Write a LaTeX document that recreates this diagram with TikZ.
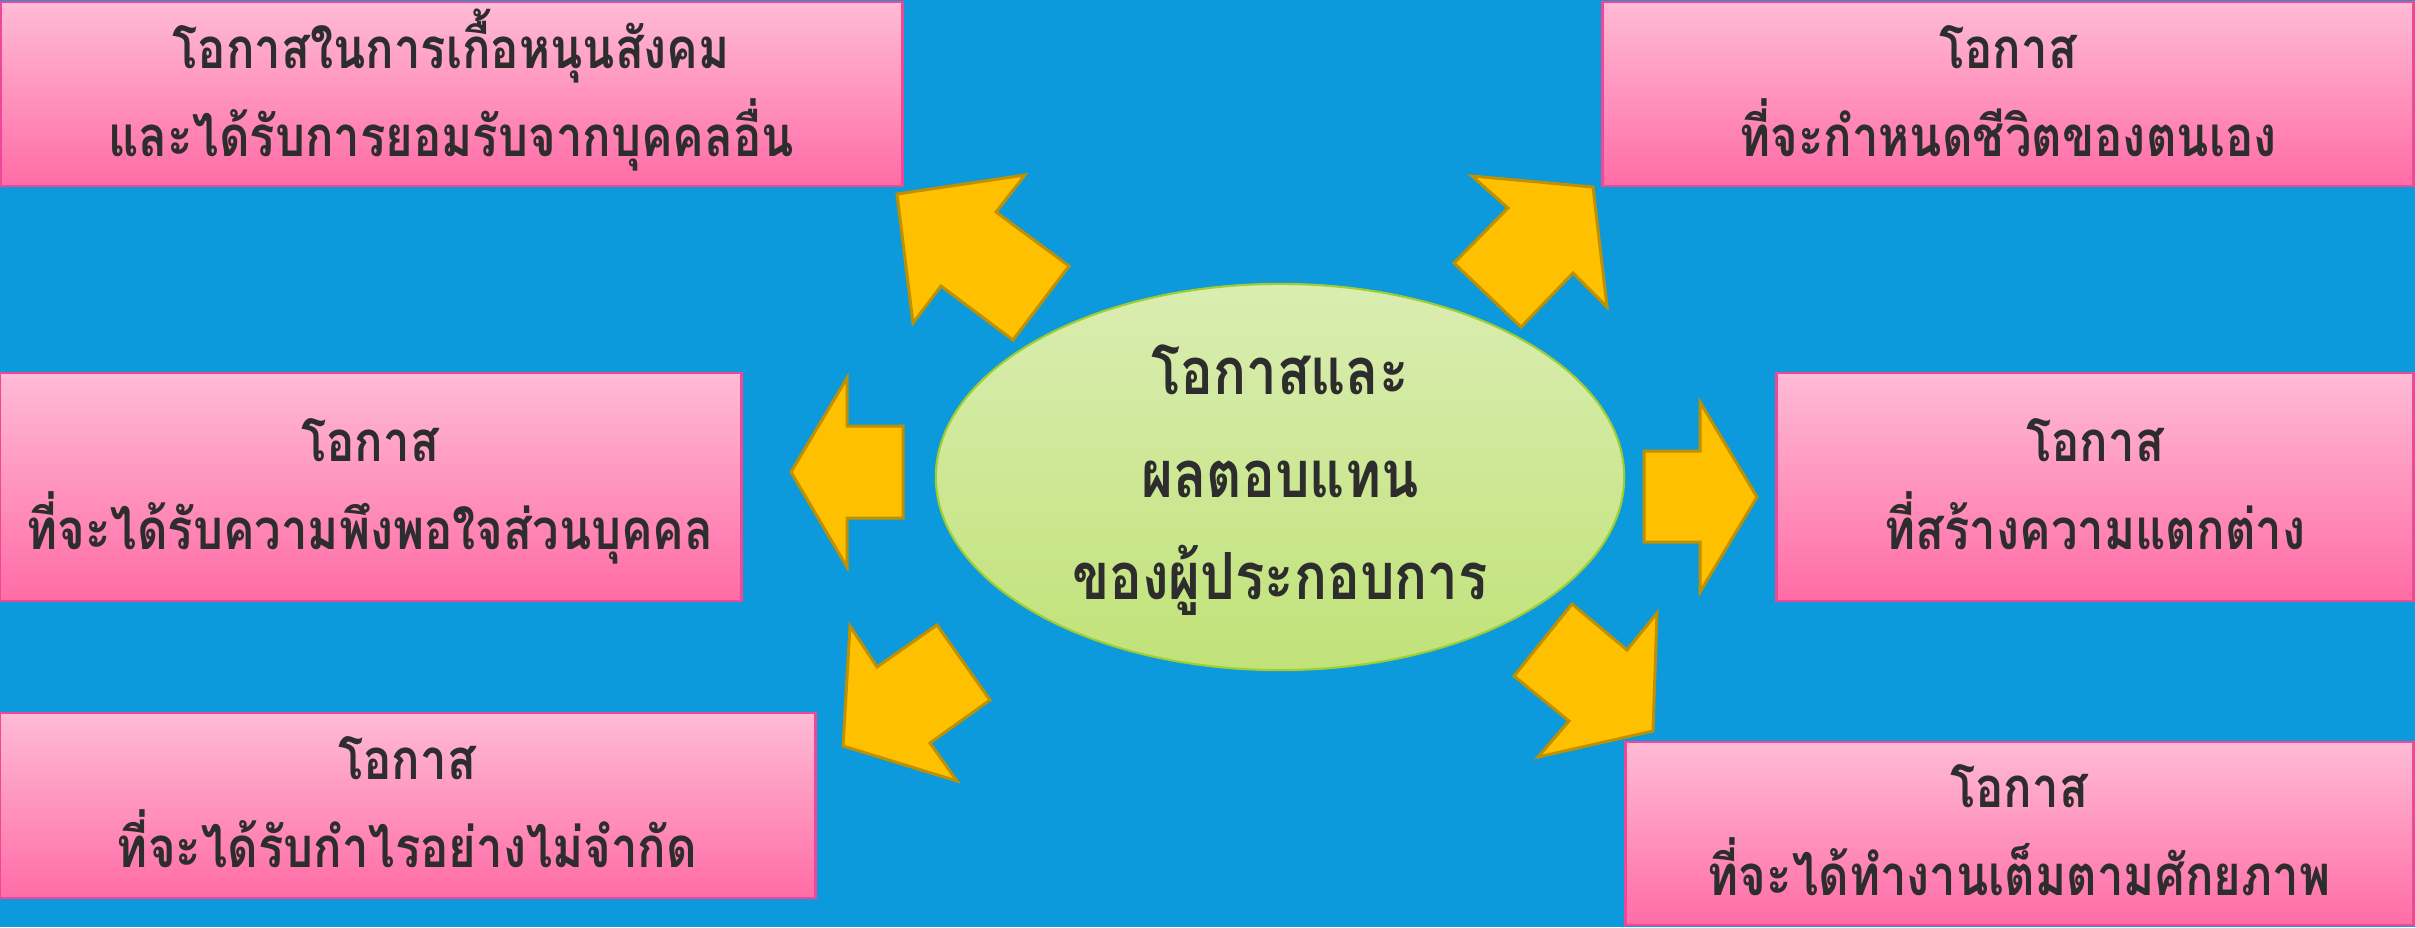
\documentclass[tikz,border=0pt]{standalone}
\usepackage{fontspec}
\usetikzlibrary{shapes.geometric}
\newfontfamily\thaifont[Script=Thai,FakeStretch=0.84]{Loma}
\definecolor{bgblue}{RGB}{12,154,220}
\definecolor{arrfill}{RGB}{255,192,0}
\definecolor{arrline}{RGB}{191,144,0}
\definecolor{pinktop}{RGB}{255,187,213}
\definecolor{pinkbot}{RGB}{255,108,166}
\definecolor{pinkline}{RGB}{238,72,150}
\definecolor{greentop}{RGB}{218,237,178}
\definecolor{greenbot}{RGB}{192,226,120}
\definecolor{greenline}{RGB}{160,205,50}
\definecolor{txtcol}{RGB}{45,45,45}
\tikzset{
  pbox/.style={draw=pinkline, line width=0.8pt, top color=pinktop, bottom color=pinkbot, rectangle, inner sep=0pt, outer sep=0pt},
  ovalbox/.style={ellipse, draw=greenline, line width=0.6pt, top color=greentop, bottom color=greenbot, inner sep=0pt},
  boxtext/.style={anchor=base, inner sep=0pt, text=txtcol, font=\thaifont\bfseries\fontsize{16}{20}\selectfont},
  ovaltext/.style={anchor=base, inner sep=0pt, text=txtcol, font=\thaifont\bfseries\fontsize{18.5}{24}\selectfont},
  blockarrow/.style={fill=arrfill, draw=arrline, line width=0.85pt, line join=miter}
}
\begin{document}
\begin{tikzpicture}[x=0.01cm,y=-0.01cm]
\fill[bgblue] (0,0) rectangle (2415,927);
\useasboundingbox (0,0) rectangle (2415,927);

% boxes
\node[pbox, minimum width=9.01cm, minimum height=1.84cm] (tl) at (451.5,94) {};
\node[pbox, minimum width=8.10cm, minimum height=1.84cm] (tr) at (2008,94) {};
\node[pbox, minimum width=7.41cm, minimum height=2.28cm] (ml) at (370.5,487) {};
\node[pbox, minimum width=6.36cm, minimum height=2.28cm] (mr) at (2095,487) {};
\node[pbox, minimum width=8.15cm, minimum height=1.85cm] (bl) at (407.5,805.5) {};
\node[pbox, minimum width=7.87cm, minimum height=1.83cm] (br) at (2019.5,833.5) {};

% box texts
\node[boxtext] (tl1) at (451,68) {โอกาสในการเกื้อหนุนสังคม};
\node[boxtext] (tl2) at (451,156) {และได้รับการยอมรับจากบุคคลอื่น};
\node[boxtext] (tr1) at (2008,68) {โอกาส};
\node[boxtext] (tr2) at (2008,156) {ที่จะกำหนดชีวิตของตนเอง};
\node[boxtext] (ml1) at (370,461) {โอกาส};
\node[boxtext] (ml2) at (370,549) {ที่จะได้รับความพึงพอใจส่วนบุคคล};
\node[boxtext] (mr1) at (2095,461) {โอกาส};
\node[boxtext] (mr2) at (2095,549) {ที่สร้างความแตกต่าง};
\node[boxtext] (bl1) at (407,779) {โอกาส};
\node[boxtext] (bl2) at (407,867) {ที่จะได้รับกำไรอย่างไม่จำกัด};
\node[boxtext] (br1) at (2019,807) {โอกาส};
\node[boxtext] (br2) at (2019,895) {ที่จะได้ทำงานเต็มตามศักยภาพ};

% centre ellipse
\node[ovalbox, minimum width=6.88cm, minimum height=3.86cm] (c) at (1280,477) {};
\node[ovaltext] (c1) at (1280,394) {โอกาสและ};
\node[ovaltext] (c2) at (1280,497) {ผลตอบแทน};
\node[ovaltext] (c3) at (1280,599) {ของผู้ประกอบการ};

% block arrows
\draw[blockarrow] (897,194) -- (1025,175) -- (996,212) -- (1069,266) -- (1013,340) -- (941,286) -- (913,323) -- cycle;
\draw[blockarrow] (1593,187) -- (1472,176) -- (1508,208) -- (1454,263) -- (1521,327) -- (1573,273) -- (1607,307) -- cycle;
\draw[blockarrow] (791,472) -- (847,378) -- (847,426) -- (903,426) -- (903,518) -- (847,518) -- (847,567) -- cycle;
\draw[blockarrow] (1757,497) -- (1700,402) -- (1700,451) -- (1644,451) -- (1644,542) -- (1700,542) -- (1700,592) -- cycle;
\draw[blockarrow] (1653,731) -- (1657,613) -- (1627,650) -- (1572,604) -- (1514,676) -- (1569,721) -- (1538,757) -- cycle;
\draw[blockarrow] (843,746) -- (850,626) -- (877,667) -- (937,625) -- (990,700) -- (930,743) -- (957,781) -- cycle;
\end{tikzpicture}
\end{document}
